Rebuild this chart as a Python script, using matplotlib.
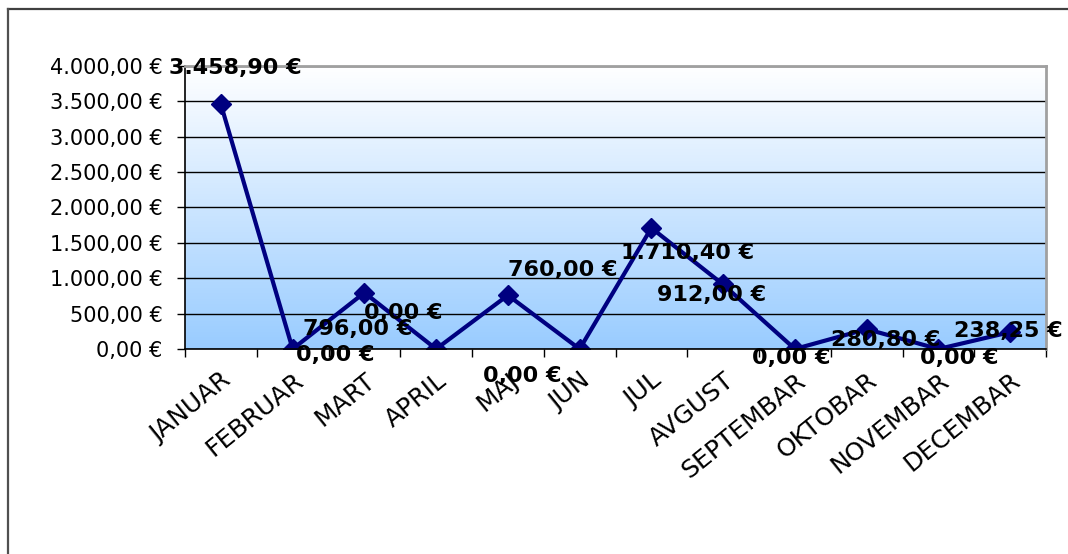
import matplotlib
matplotlib.use("Agg")
import matplotlib.pyplot as plt
import numpy as np
from matplotlib.colors import LinearSegmentedColormap
from matplotlib.lines import Line2D
from matplotlib.ticker import FuncFormatter, FixedLocator

months = ["JANUAR", "FEBRUAR", "MART", "APRIL", "MAJ", "JUN", "JUL",
          "AVGUST", "SEPTEMBAR", "OKTOBAR", "NOVEMBAR", "DECEMBAR"]
values = [3458.90, 0.00, 796.00, 0.00, 760.00, 0.00, 1710.40,
          912.00, 0.00, 280.80, 0.00, 238.25]
y_ticks = [0, 500, 1000, 1500, 2000, 2500, 3000, 3500, 4000]
# label offsets (pixels) as placed in the original chart
label_offsets = [(14, 36), (43, -6), (-7, -36), (-33, 36), (55, 25), (-57, -27),
                 (36, -25), (-12, -11), (-4, -9), (19, -11), (21, -9), (-2, 1)]


def euro(v, pos=None):
    s = f"{v:,.2f}"
    s = s.replace(",", "X").replace(".", ",").replace("X", ".")
    return s + " €"


W, H = 1068, 554
fig = plt.figure(figsize=(W / 100, H / 100), dpi=100)
fig.patch.set_facecolor("white")

# outer chart frame (top and left edges visible)
fig.add_artist(Line2D([8 / W, 1.0], [1 - 9 / H, 1 - 9 / H], color="#404040", lw=1.6,
                      transform=fig.transFigure))
fig.add_artist(Line2D([8 / W, 8 / W], [1 - 9 / H, 0], color="#505050", lw=1.6,
                      transform=fig.transFigure))

left, right, top, bottom = 185, 1046, 66, 349
ax = fig.add_axes([left / W, 1 - bottom / H, (right - left) / W, (bottom - top) / H])

# gradient background
cmap = LinearSegmentedColormap.from_list("g", ["#99CCFF", "#FFFFFF"])
grad = np.linspace(0, 1, 256).reshape(-1, 1)
ax.imshow(grad, cmap=cmap, aspect="auto", extent=[0, 1, 0, 1], origin="lower",
          transform=ax.transAxes, zorder=0)

x = np.arange(len(months))
ax.set_xlim(-0.5, len(months) - 0.5)
ax.set_ylim(0, 4000)

ax.yaxis.set_major_locator(FixedLocator(y_ticks))
ax.yaxis.set_major_formatter(FuncFormatter(euro))
ax.grid(axis="y", color="black", lw=1.0, zorder=1)
ax.set_axisbelow(False)

ax.plot(x, values, color="#000080", lw=3.0, marker="D", markersize=10,
        markerfacecolor="#000080", markeredgecolor="#000080", zorder=3)

for xi, v, (dx, dy) in zip(x, values, label_offsets):
    ax.annotate(euro(v), (xi, v), xytext=(dx, dy), textcoords="offset pixels",
                ha="center", va="center", fontsize=16, fontweight="bold",
                color="black", zorder=5, annotation_clip=False)

ax.set_xticks(x)
ax.set_xticklabels(months, rotation=39, ha="right", va="top",
                   rotation_mode="anchor", fontsize=18)
ax.set_xticks(np.arange(-0.5, len(months)), minor=True)
ax.tick_params(axis="x", which="major", length=0, pad=14)
ax.tick_params(axis="x", which="minor", length=6, width=1, color="black", direction="out")
ax.tick_params(axis="y", which="major", length=6, width=1, color="black",
               direction="out", labelsize=15, pad=10)

for s in ["left", "bottom"]:
    ax.spines[s].set_color("black")
    ax.spines[s].set_linewidth(1.2)
for s in ["top", "right"]:
    ax.spines[s].set_color("#A0A0A0")
    ax.spines[s].set_linewidth(2)
for s in ax.spines.values():
    s.set_zorder(4)

fig.savefig("out.png", dpi=100)
